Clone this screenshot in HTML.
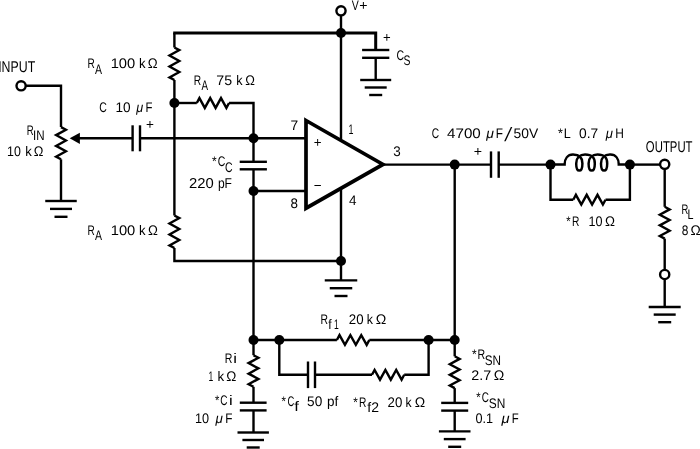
<!DOCTYPE html>
<html lang="en">
<head>
<meta charset="utf-8">
<title>Audio power amplifier test circuit</title>
<style>
html,body{margin:0;padding:0;background:#fff;}
body{width:700px;height:449px;overflow:hidden;}
svg{display:block;will-change:transform;}
svg text{font-family:"Liberation Sans",sans-serif;font-size:13.9px;fill:#000;stroke:none;}
</style>
</head>
<body>
<svg width="700" height="449" viewBox="0 0 700 449">
<rect x="0" y="0" width="700" height="449" fill="#fff"/>
<g fill="none" stroke="#000" stroke-width="2.4" stroke-linecap="butt" stroke-linejoin="miter">
<polyline points="26,85.8 61,85.8 61,127.1"/>
<polyline points="61,127.1 65.9,129.7 56.1,135.1 65.9,140.5 56.1,145.9 65.9,151.3 56.1,156.7 61,159.3"/>
<polyline points="61,159.3 61,201"/>
<polyline points="45.25,201 76.75,201"/>
<polyline points="50,208.9 72,208.9"/>
<polyline points="54.5,216.8 67.5,216.8"/>
<circle cx="21.1" cy="85.8" r="4.6" fill="#fff"/>
<polygon points="69.7,138.3 79.9,132.7 79.9,143.9" fill="#000" stroke="none"/>
<polyline points="79,138.3 132.5,138.3"/>
<polyline points="132.6,125.3 132.6,151.3"/>
<polyline points="140,125.3 140,151.3"/>
<polyline points="140,138.3 306,138.3"/>
<polyline points="174.4,33 174.4,47.5"/>
<polyline points="174.4,47.5 179.3,50.1 169.5,55.56 179.3,61.02 169.5,66.48 179.3,71.94 169.5,77.4 174.4,80"/>
<polyline points="174.4,80 174.4,215.5"/>
<polyline points="174.4,215.5 179.3,218.1 169.5,223.56 179.3,229.02 169.5,234.48 179.3,239.94 169.5,245.4 174.4,248"/>
<polyline points="174.4,248 174.4,261 341,261"/>
<polyline points="173.2,33 375.7,33 375.7,50" stroke-width="3"/>
<polyline points="362.1,50 389.3,50"/>
<polyline points="362.1,57.8 389.3,57.8"/>
<polyline points="375.7,57.8 375.7,80"/>
<polyline points="360.2,80 391.2,80"/>
<polyline points="364.7,87.5 386.7,87.5"/>
<polyline points="369.2,95 382.2,95"/>
<polyline points="341,15 341,139.5"/>
<circle cx="341" cy="10.8" r="4.6" fill="#fff"/>
<circle cx="341" cy="33" r="5" fill="#000" stroke="none"/>
<polyline points="174.4,103 196.8,103"/>
<polyline points="196.8,103 199.4,98.1 204.8,107.9 210.2,98.1 215.6,107.9 221,98.1 226.4,107.9 229,103"/>
<polyline points="229,103 253.5,103 253.5,162"/>
<circle cx="174.4" cy="103" r="5" fill="#000" stroke="none"/>
<polyline points="239.7,161.8 266.9,161.8"/>
<polyline points="239.7,169.3 266.9,169.3"/>
<polyline points="253.5,169.3 253.5,355.2"/>
<circle cx="253.5" cy="138.3" r="5" fill="#000" stroke="none"/>
<circle cx="253.5" cy="191" r="5" fill="#000" stroke="none"/>
<polyline points="253.5,191 306,191"/>
<polyline points="341,189 341,280.4"/>
<circle cx="341" cy="261" r="5" fill="#000" stroke="none"/>
<polyline points="324.75,280.4 357.25,280.4"/>
<polyline points="329.75,288.2 352.25,288.2"/>
<polyline points="334.5,296 347.5,296"/>
<polygon points="306,120.5 383,164.4 306,208.2" stroke-width="3.7"/>
<polyline points="383,164.6 491,164.6"/>
<polyline points="491,151.4 491,177.8"/>
<polyline points="498.7,151.4 498.7,177.8"/>
<polyline points="498.7,164.6 555,164.6"/>
<circle cx="454.7" cy="164.6" r="5" fill="#000" stroke="none"/>
<circle cx="550.5" cy="164.6" r="5" fill="#000" stroke="none"/>
<path d="M553,164.6 L564.6,164.6 C564.6,159 567.6,154.6 573,154.6 C580.3,154.6 582.4,158 582.4,163.4 C582.4,168 581.3,170.6 579.3,170.6 C577.3,170.6 576.2,168 576.2,163.4 C576.2,158 579.8,154.6 585.1,154.6 C592.7,154.6 594.8,158 594.8,163.4 C594.8,168 593.7,170.6 591.7,170.6 C589.7,170.6 588.6,168 588.6,163.4 C588.6,158 592.2,154.6 597.5,154.6 C605.1,154.6 607.2,158 607.2,163.4 C607.2,168 606.1,170.6 604.1,170.6 C602.1,170.6 601,168 601,163.4 C601,158 604.6,154.6 609.9,154.6 L610.4,154.6 C615.8,154.6 618.8,159 618.8,164.6 L629.9,164.6" stroke-width="2.5"/>
<polyline points="629.9,164.6 660.5,164.6"/>
<circle cx="629.9" cy="164.6" r="5" fill="#000" stroke="none"/>
<polyline points="550.5,164.6 550.5,199.7 573.3,199.7"/>
<polyline points="573.3,199.7 575.9,194.8 581.3,204.6 586.7,194.8 592.1,204.6 597.5,194.8 602.9,204.6 605.5,199.7"/>
<polyline points="605.5,199.7 629.9,199.7 629.9,164.6"/>
<polyline points="664.7,169 664.7,206.8"/>
<polyline points="664.7,206.8 669.6,209.4 659.8,214.72 669.6,220.04 659.8,225.36 669.6,230.68 659.8,236 664.7,238.6"/>
<polyline points="664.7,238.6 664.7,270"/>
<polyline points="664.7,279 664.7,307"/>
<circle cx="664.7" cy="164.3" r="4.6" fill="#fff"/>
<circle cx="664.7" cy="274.5" r="4.6" fill="#fff"/>
<polyline points="648.7,307 680.7,307"/>
<polyline points="653.7,314.6 675.7,314.6"/>
<polyline points="658.2,322.2 671.2,322.2"/>
<polyline points="454.7,164.6 454.7,356.3"/>
<polyline points="253.5,340 336.9,340"/>
<polyline points="336.9,340 339.5,335.1 344.94,344.9 350.38,335.1 355.82,344.9 361.26,335.1 366.7,344.9 369.3,340"/>
<polyline points="369.3,340 454.7,340"/>
<polyline points="279.3,340 279.3,374.8 308,374.8"/>
<polyline points="308,361.5 308,388.1"/>
<polyline points="315,361.5 315,388.1"/>
<polyline points="315,374.8 372,374.8"/>
<polyline points="372,374.8 374.6,369.9 380,379.7 385.4,369.9 390.8,379.7 396.2,369.9 401.6,379.7 404.2,374.8"/>
<polyline points="404.2,374.8 428.6,374.8 428.6,340"/>
<circle cx="253.5" cy="340" r="5" fill="#000" stroke="none"/>
<circle cx="279.3" cy="340" r="5" fill="#000" stroke="none"/>
<circle cx="428.6" cy="340" r="5" fill="#000" stroke="none"/>
<circle cx="454.7" cy="340" r="5" fill="#000" stroke="none"/>
<polyline points="253.5,355.2 258.4,357.8 248.6,363.08 258.4,368.36 248.6,373.64 258.4,378.92 248.6,384.2 253.5,386.8"/>
<polyline points="253.5,386.8 253.5,402.7"/>
<polyline points="239.8,402.7 266.6,402.7"/>
<polyline points="239.8,410.4 266.6,410.4"/>
<polyline points="253.5,410.4 253.5,432.5"/>
<polyline points="237.5,432.5 268.9,432.5"/>
<polyline points="242.4,440 264,440"/>
<polyline points="246.7,447.5 259.7,447.5"/>
<polyline points="454.7,356.3 459.6,358.9 449.8,364.22 459.6,369.54 449.8,374.86 459.6,380.18 449.8,385.5 454.7,388.1"/>
<polyline points="454.7,388.1 454.7,402.9"/>
<polyline points="441.2,402.9 468.2,402.9"/>
<polyline points="441.2,410.6 468.2,410.6"/>
<polyline points="454.7,410.6 454.7,431.4"/>
<polyline points="438.9,431.4 470.5,431.4"/>
<polyline points="443.8,439.1 465.6,439.1"/>
<polyline points="448.2,446.8 461.2,446.8"/>
</g>
<g transform="matrix(1 0 0.0005 1 0 0)">
<text><tspan x="-1.91" y="71.7" textLength="37.06" lengthAdjust="spacingAndGlyphs" font-size="15.6">INPUT</tspan></text>
<text><tspan x="87.49" y="68.3" textLength="7.28" lengthAdjust="spacingAndGlyphs">R</tspan> <tspan x="95" y="73.6" textLength="7.02" lengthAdjust="spacingAndGlyphs">A</tspan> <tspan x="110.6" y="68.3" textLength="24.57" lengthAdjust="spacingAndGlyphs">100</tspan> <tspan x="138.85" y="68.3" textLength="6.55" lengthAdjust="spacingAndGlyphs">k</tspan> <tspan x="147.77" y="68.3" textLength="9.89" lengthAdjust="spacingAndGlyphs">&#937;</tspan></text>
<text><tspan x="193.78" y="84.6" textLength="7.4" lengthAdjust="spacingAndGlyphs">R</tspan> <tspan x="201.4" y="90.3" textLength="6.52" lengthAdjust="spacingAndGlyphs">A</tspan> <tspan x="216.19" y="84.6" textLength="15.81" lengthAdjust="spacingAndGlyphs">75</tspan> <tspan x="236.28" y="84.6" textLength="6.32" lengthAdjust="spacingAndGlyphs">k</tspan> <tspan x="245.18" y="84.6" textLength="9.67" lengthAdjust="spacingAndGlyphs">&#937;</tspan></text>
<text><tspan x="99.17" y="112" textLength="7.62" lengthAdjust="spacingAndGlyphs">C</tspan> <tspan x="115.38" y="112" textLength="15.13" lengthAdjust="spacingAndGlyphs">10</tspan> <tspan x="136.25" y="112" textLength="6.97" lengthAdjust="spacingAndGlyphs" font-style="italic">&#956;</tspan> <tspan x="145.49" y="112" textLength="6.98" lengthAdjust="spacingAndGlyphs">F</tspan></text>
<text><tspan x="146.02" y="128.66" textLength="7.95" lengthAdjust="spacingAndGlyphs">+</tspan></text>
<text><tspan x="26.63" y="134.8" textLength="6.92" lengthAdjust="spacingAndGlyphs">R</tspan> <tspan x="32.96" y="139.8" textLength="11.57" lengthAdjust="spacingAndGlyphs">IN</tspan></text>
<text><tspan x="6.97" y="155.7" textLength="13.79" lengthAdjust="spacingAndGlyphs">10</tspan> <tspan x="25.15" y="155.7" textLength="6.55" lengthAdjust="spacingAndGlyphs">k</tspan> <tspan x="33.78" y="155.7" textLength="9.67" lengthAdjust="spacingAndGlyphs">&#937;</tspan></text>
<text><tspan x="87.49" y="235.1" textLength="7.28" lengthAdjust="spacingAndGlyphs">R</tspan> <tspan x="95" y="240.4" textLength="7.02" lengthAdjust="spacingAndGlyphs">A</tspan> <tspan x="110.6" y="235.1" textLength="24.57" lengthAdjust="spacingAndGlyphs">100</tspan> <tspan x="138.85" y="235.1" textLength="6.55" lengthAdjust="spacingAndGlyphs">k</tspan> <tspan x="147.77" y="235.1" textLength="9.89" lengthAdjust="spacingAndGlyphs">&#937;</tspan></text>
<text><tspan x="211.92" y="166.4" textLength="4.65" lengthAdjust="spacingAndGlyphs">*</tspan> <tspan x="217.77" y="166.4" textLength="7.62" lengthAdjust="spacingAndGlyphs">C</tspan> <tspan x="224.87" y="171.8" textLength="7.62" lengthAdjust="spacingAndGlyphs">C</tspan></text>
<text><tspan x="188.96" y="188.1" textLength="24.71" lengthAdjust="spacingAndGlyphs" font-size="14.3">220</tspan> <tspan x="217.82" y="188.1" textLength="14.09" lengthAdjust="spacingAndGlyphs" font-size="14.3">pF</tspan></text>
<text><tspan x="351.65" y="10" textLength="7.03" lengthAdjust="spacingAndGlyphs">V</tspan> <tspan x="359.24" y="9.76" textLength="8.31" lengthAdjust="spacingAndGlyphs">+</tspan></text>
<text><tspan x="383.04" y="42.06" textLength="7.71" lengthAdjust="spacingAndGlyphs">+</tspan></text>
<text><tspan x="396.37" y="60" textLength="7.62" lengthAdjust="spacingAndGlyphs">C</tspan> <tspan x="403.53" y="65.5" textLength="6.96" lengthAdjust="spacingAndGlyphs">S</tspan></text>
<text><tspan x="290.41" y="129.7" textLength="7.7" lengthAdjust="spacingAndGlyphs">7</tspan></text>
<text><tspan x="290.5" y="208.5" textLength="7.46" lengthAdjust="spacingAndGlyphs">8</tspan></text>
<text><tspan x="348.43" y="133.9" textLength="4.99" lengthAdjust="spacingAndGlyphs">1</tspan></text>
<text><tspan x="348.83" y="204.6" textLength="7.52" lengthAdjust="spacingAndGlyphs">4</tspan></text>
<text><tspan x="393.06" y="155.7" textLength="7.49" lengthAdjust="spacingAndGlyphs">3</tspan></text>
<text><tspan x="313.58" y="146.66" textLength="7.83" lengthAdjust="spacingAndGlyphs">+</tspan></text>
<text><tspan x="313.58" y="190.46" textLength="7.83" lengthAdjust="spacingAndGlyphs">&#8722;</tspan></text>
<text><tspan x="431.69" y="138" textLength="7.39" lengthAdjust="spacingAndGlyphs">C</tspan> <tspan x="447" y="138" textLength="33.73" lengthAdjust="spacingAndGlyphs">4700</tspan> <tspan x="486.18" y="138" textLength="7.67" lengthAdjust="spacingAndGlyphs" font-style="italic">&#956;</tspan> <tspan x="495.75" y="138" textLength="7.23" lengthAdjust="spacingAndGlyphs">F</tspan> <tspan x="505.27" y="140.9" textLength="5.42" lengthAdjust="spacingAndGlyphs" font-style="italic" font-size="19.5">/</tspan> <tspan x="513.55" y="138" textLength="24.68" lengthAdjust="spacingAndGlyphs">50V</tspan></text>
<text><tspan x="473.64" y="155.86" textLength="8.31" lengthAdjust="spacingAndGlyphs">+</tspan></text>
<text><tspan x="558.01" y="138.2" textLength="4.86" lengthAdjust="spacingAndGlyphs">*</tspan> <tspan x="563.59" y="138.2" textLength="7" lengthAdjust="spacingAndGlyphs">L</tspan> <tspan x="578.95" y="138.2" textLength="19.14" lengthAdjust="spacingAndGlyphs">0.7</tspan> <tspan x="605.66" y="138.2" textLength="7.17" lengthAdjust="spacingAndGlyphs" font-style="italic">&#956;</tspan> <tspan x="615.14" y="138.2" textLength="8.64" lengthAdjust="spacingAndGlyphs">H</tspan></text>
<text><tspan x="645.79" y="151.9" textLength="46.65" lengthAdjust="spacingAndGlyphs" font-size="15.6">OUTPUT</tspan></text>
<text><tspan x="566.03" y="226.2" textLength="4.32" lengthAdjust="spacingAndGlyphs">*</tspan> <tspan x="571.78" y="226.2" textLength="7.4" lengthAdjust="spacingAndGlyphs">R</tspan> <tspan x="588.46" y="226.2" textLength="14.02" lengthAdjust="spacingAndGlyphs">10</tspan> <tspan x="604.86" y="226.2" textLength="10.01" lengthAdjust="spacingAndGlyphs">&#937;</tspan></text>
<text><tspan x="681.35" y="214" textLength="6.8" lengthAdjust="spacingAndGlyphs">R</tspan> <tspan x="687.34" y="219.4" textLength="6" lengthAdjust="spacingAndGlyphs">L</tspan></text>
<text><tspan x="681.56" y="235.4" textLength="6.63" lengthAdjust="spacingAndGlyphs">8</tspan> <tspan x="690.35" y="235.4" textLength="10.23" lengthAdjust="spacingAndGlyphs">&#937;</tspan></text>
<text><tspan x="320.37" y="324" textLength="7.53" lengthAdjust="spacingAndGlyphs">R</tspan> <tspan x="328.02" y="329.4" textLength="3.35" lengthAdjust="spacingAndGlyphs">f</tspan> <tspan x="333.93" y="329.4" textLength="4.79" lengthAdjust="spacingAndGlyphs">1</tspan> <tspan x="348.64" y="324" textLength="14.76" lengthAdjust="spacingAndGlyphs">20</tspan> <tspan x="366.59" y="324" textLength="6.21" lengthAdjust="spacingAndGlyphs">k</tspan> <tspan x="375.63" y="324" textLength="10.57" lengthAdjust="spacingAndGlyphs">&#937;</tspan></text>
<text><tspan x="224.55" y="363" textLength="7.65" lengthAdjust="spacingAndGlyphs">R</tspan> <tspan x="233.07" y="363" textLength="3.71" lengthAdjust="spacingAndGlyphs">i</tspan></text>
<text><tspan x="208.33" y="380.7" textLength="4.79" lengthAdjust="spacingAndGlyphs">1</tspan> <tspan x="217.33" y="380.7" textLength="6.67" lengthAdjust="spacingAndGlyphs">k</tspan> <tspan x="226.06" y="380.7" textLength="10.12" lengthAdjust="spacingAndGlyphs">&#937;</tspan></text>
<text><tspan x="214.83" y="405.3" textLength="4.32" lengthAdjust="spacingAndGlyphs">*</tspan> <tspan x="220.1" y="405.3" textLength="7.28" lengthAdjust="spacingAndGlyphs">C</tspan> <tspan x="228.92" y="405.3" textLength="3.71" lengthAdjust="spacingAndGlyphs">i</tspan></text>
<text><tspan x="194.85" y="423" textLength="14.13" lengthAdjust="spacingAndGlyphs">10</tspan> <tspan x="215.27" y="423" textLength="7.37" lengthAdjust="spacingAndGlyphs" font-style="italic">&#956;</tspan> <tspan x="224.95" y="423" textLength="7.23" lengthAdjust="spacingAndGlyphs">F</tspan></text>
<text><tspan x="281.33" y="406.4" textLength="4.43" lengthAdjust="spacingAndGlyphs">*</tspan> <tspan x="287.23" y="406.4" textLength="6.82" lengthAdjust="spacingAndGlyphs">C</tspan> <tspan x="294.04" y="411.5" textLength="4.63" lengthAdjust="spacingAndGlyphs">f</tspan> <tspan x="306.86" y="406.4" textLength="15.15" lengthAdjust="spacingAndGlyphs">50</tspan> <tspan x="326.92" y="406.4" textLength="11.26" lengthAdjust="spacingAndGlyphs">pf</tspan></text>
<text><tspan x="353.12" y="406.8" textLength="4.54" lengthAdjust="spacingAndGlyphs">*</tspan> <tspan x="358.78" y="406.8" textLength="7.4" lengthAdjust="spacingAndGlyphs">R</tspan> <tspan x="367.09" y="411.8" textLength="11.7" lengthAdjust="spacingAndGlyphs">f2</tspan> <tspan x="387.34" y="406.8" textLength="14.76" lengthAdjust="spacingAndGlyphs">20</tspan> <tspan x="405.41" y="406.8" textLength="6.09" lengthAdjust="spacingAndGlyphs">k</tspan> <tspan x="414.44" y="406.8" textLength="10.45" lengthAdjust="spacingAndGlyphs">&#937;</tspan></text>
<text><tspan x="471.72" y="359.2" textLength="4.65" lengthAdjust="spacingAndGlyphs">*</tspan> <tspan x="477.35" y="359.2" textLength="7.65" lengthAdjust="spacingAndGlyphs">R</tspan> <tspan x="484.47" y="364.9" textLength="16.32" lengthAdjust="spacingAndGlyphs">SN</tspan></text>
<text><tspan x="471.18" y="380.4" textLength="19.94" lengthAdjust="spacingAndGlyphs">2.7</tspan> <tspan x="493.63" y="380.4" textLength="10.57" lengthAdjust="spacingAndGlyphs">&#937;</tspan></text>
<text><tspan x="476.03" y="402.2" textLength="4.32" lengthAdjust="spacingAndGlyphs">*</tspan> <tspan x="481.5" y="402.2" textLength="7.17" lengthAdjust="spacingAndGlyphs">C</tspan> <tspan x="488.56" y="407.7" textLength="16.54" lengthAdjust="spacingAndGlyphs">SN</tspan></text>
<text><tspan x="475.19" y="423.3" textLength="17.58" lengthAdjust="spacingAndGlyphs">0.1</tspan> <tspan x="501.29" y="423.3" textLength="8.07" lengthAdjust="spacingAndGlyphs" font-style="italic">&#956;</tspan> <tspan x="511.49" y="423.3" textLength="6.98" lengthAdjust="spacingAndGlyphs">F</tspan></text>
</g>
</svg>
</body>
</html>
